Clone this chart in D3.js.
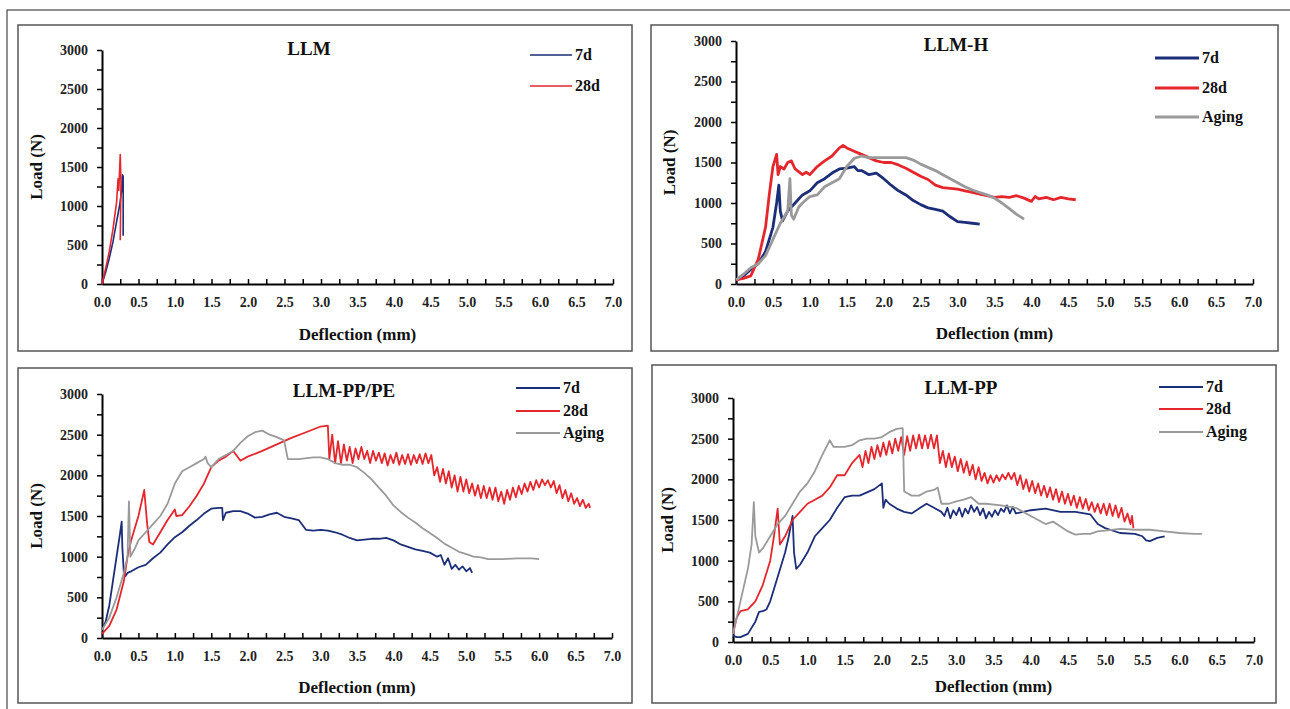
<!DOCTYPE html>
<html>
<head>
<meta charset="utf-8">
<script src="https://cdn.jsdelivr.net/npm/d3@7"></script>
<style>
  body { margin: 0; background: #fff; }
  svg text { font-family: "Liberation Serif", "DejaVu Serif", "Times New Roman", serif !important; font-weight: bold; fill: #111; }
</style>
</head>
<body>
<svg id="chart" width="1290" height="709"></svg>
<script>
// series names + tick labels
const seriesNames = ["7d", "28d", "Aging"];
const xTicks = d3.range(0, 7.01, 0.25);
const yTicks = d3.range(0, 3001, 250);

// LLM  [deflection mm, load N]
const llm7d = [[0,0],[0.05,150],[0.1,330],[0.15,540],[0.2,800],[0.24,1000],[0.27,1200],[0.28,1400],[0.29,1380],[0.29,620]];
const llm28d = [[0,0],[0.05,200],[0.1,420],[0.15,700],[0.2,1050],[0.22,1350],[0.23,1200],[0.25,1660],[0.26,1300],[0.25,560]];

// LLM-H
const llmh7d = [[0,50],[0.1,100],[0.2,180],[0.3,250],[0.4,400],[0.5,700],[0.55,1000],[0.58,1220],[0.6,900],[0.63,780],[0.7,900],[0.8,1000],[0.9,1100],[1.0,1150],[1.1,1250],[1.2,1300],[1.3,1370],[1.4,1420],[1.5,1430],[1.6,1450],[1.65,1400],[1.7,1400],[1.8,1350],[1.9,1370],[2.0,1300],[2.1,1220],[2.2,1150],[2.3,1100],[2.4,1030],[2.5,980],[2.6,940],[2.7,920],[2.8,900],[2.9,830],[3.0,770],[3.1,760],[3.2,750],[3.3,740]];
const llmh28d = [[0,50],[0.1,70],[0.2,100],[0.3,300],[0.4,700],[0.45,1100],[0.5,1450],[0.55,1600],[0.57,1350],[0.6,1450],[0.65,1420],[0.7,1500],[0.75,1520],[0.8,1420],[0.9,1350],[0.95,1380],[1.0,1350],[1.1,1450],[1.2,1520],[1.3,1580],[1.4,1680],[1.45,1710],[1.5,1680],[1.6,1640],[1.7,1600],[1.8,1560],[1.9,1520],[2.0,1500],[2.1,1500],[2.2,1470],[2.3,1430],[2.4,1380],[2.5,1330],[2.6,1290],[2.7,1220],[2.8,1190],[2.9,1180],[3.0,1170],[3.1,1150],[3.2,1130],[3.3,1110],[3.4,1090],[3.5,1070],[3.6,1080],[3.7,1070],[3.8,1090],[3.9,1060],[4.0,1020],[4.05,1080],[4.1,1050],[4.2,1070],[4.3,1040],[4.4,1070],[4.5,1050],[4.6,1040]];
const llmhAging = [[0,50],[0.1,120],[0.2,200],[0.3,250],[0.4,350],[0.5,550],[0.6,750],[0.7,900],[0.73,1300],[0.75,850],[0.78,800],[0.85,950],[0.9,1000],[1.0,1080],[1.1,1100],[1.2,1200],[1.3,1250],[1.4,1300],[1.5,1450],[1.6,1550],[1.7,1580],[1.8,1560],[2.0,1560],[2.2,1560],[2.3,1560],[2.4,1530],[2.5,1480],[2.6,1440],[2.7,1400],[2.8,1350],[2.9,1300],[3.0,1250],[3.1,1200],[3.2,1160],[3.3,1130],[3.4,1100],[3.5,1060],[3.6,1000],[3.7,930],[3.8,860],[3.9,800]];

// LLM-PP/PE
const ppe7d = [[0,100],[0.05,200],[0.1,400],[0.15,700],[0.2,1000],[0.25,1300],[0.27,1430],[0.28,1100],[0.3,800],[0.32,760],[0.35,800],[0.4,820],[0.5,870],[0.6,900],[0.7,980],[0.8,1050],[0.9,1150],[1.0,1240],[1.1,1300],[1.2,1380],[1.3,1450],[1.4,1530],[1.5,1590],[1.6,1600],[1.65,1600],[1.66,1450],[1.7,1540],[1.8,1560],[1.9,1560],[2.0,1530],[2.1,1480],[2.2,1490],[2.3,1520],[2.4,1540],[2.5,1490],[2.6,1470],[2.7,1450],[2.8,1330],[2.9,1320],[3.0,1330],[3.1,1320],[3.2,1300],[3.3,1270],[3.4,1230],[3.5,1200],[3.6,1210],[3.7,1220],[3.8,1220],[3.9,1230],[4.0,1200],[4.1,1150],[4.2,1120],[4.3,1090],[4.4,1070],[4.5,1050],[4.6,1000],[4.65,1020],[4.7,900],[4.75,980],[4.8,850],[4.85,900],[4.9,840],[4.95,880],[5.0,820],[5.05,860],[5.08,800]];
const ppe28d = [[0,50],[0.1,150],[0.2,350],[0.3,700],[0.35,1000],[0.4,1200],[0.5,1500],[0.58,1820],[0.62,1400],[0.65,1180],[0.7,1150],[0.8,1300],[0.9,1450],[1.0,1580],[1.02,1500],[1.1,1510],[1.2,1620],[1.3,1750],[1.4,1900],[1.5,2100],[1.6,2180],[1.7,2230],[1.8,2300],[1.85,2240],[1.9,2180],[2.0,2230],[2.2,2300],[2.4,2380],[2.6,2460],[2.8,2530],[3.0,2600],[3.1,2610],[3.12,2200],[3.16,2500],[3.2,2150],[3.24,2420],[3.28,2150],[3.32,2380],[3.36,2180],[3.4,2350],[3.44,2150],[3.48,2330],[3.52,2200],[3.56,2350],[3.6,2200],[3.64,2300],[3.68,2150],[3.72,2300],[3.76,2180],[3.8,2280],[3.84,2150],[3.88,2270],[3.92,2120],[3.96,2250],[4.0,2150],[4.04,2280],[4.08,2130],[4.12,2250],[4.16,2140],[4.2,2260],[4.24,2130],[4.28,2250],[4.32,2150],[4.36,2260],[4.4,2140],[4.44,2270],[4.48,2150],[4.52,2250],[4.56,2000],[4.6,2100],[4.64,1920],[4.68,2080],[4.72,1900],[4.76,2050],[4.8,1850],[4.84,2000],[4.88,1800],[4.92,1980],[4.96,1800],[5.0,1950],[5.04,1780],[5.08,1900],[5.12,1750],[5.16,1880],[5.2,1720],[5.24,1870],[5.28,1720],[5.32,1850],[5.36,1700],[5.4,1850],[5.44,1680],[5.48,1800],[5.52,1650],[5.56,1820],[5.6,1700],[5.64,1850],[5.68,1730],[5.72,1870],[5.76,1770],[5.8,1900],[5.84,1800],[5.88,1920],[5.92,1820],[5.96,1940],[6.0,1850],[6.04,1950],[6.08,1880],[6.12,1940],[6.16,1850],[6.2,1930],[6.24,1780],[6.28,1880],[6.32,1720],[6.36,1820],[6.4,1680],[6.44,1780],[6.48,1650],[6.52,1720],[6.56,1620],[6.6,1700],[6.64,1600],[6.68,1650],[6.7,1600]];
const ppeAging = [[0,100],[0.1,250],[0.2,500],[0.3,800],[0.35,1000],[0.37,1680],[0.39,1000],[0.45,1100],[0.5,1200],[0.6,1300],[0.7,1400],[0.8,1500],[0.9,1650],[1.0,1900],[1.1,2050],[1.2,2100],[1.3,2150],[1.4,2200],[1.42,2230],[1.45,2150],[1.5,2100],[1.6,2200],[1.7,2250],[1.8,2300],[1.9,2400],[2.0,2480],[2.1,2530],[2.2,2550],[2.3,2500],[2.4,2470],[2.5,2430],[2.55,2200],[2.7,2200],[2.9,2220],[3.0,2220],[3.1,2200],[3.2,2150],[3.3,2130],[3.4,2130],[3.5,2100],[3.6,2030],[3.7,1950],[3.8,1850],[3.9,1750],[4.0,1630],[4.1,1550],[4.2,1480],[4.3,1420],[4.4,1350],[4.5,1290],[4.6,1230],[4.7,1160],[4.8,1110],[4.9,1060],[5.0,1030],[5.1,1000],[5.2,990],[5.3,970],[5.5,970],[5.7,980],[5.9,980],[6.0,970]];

// LLM-PP
const pp7d = [[0,80],[0.05,60],[0.1,60],[0.2,100],[0.3,250],[0.35,370],[0.4,380],[0.45,400],[0.5,500],[0.6,800],[0.7,1100],[0.75,1300],[0.8,1550],[0.82,1100],[0.85,900],[0.9,950],[1.0,1100],[1.1,1300],[1.2,1400],[1.3,1500],[1.4,1650],[1.5,1780],[1.6,1800],[1.7,1800],[1.8,1840],[1.9,1880],[2.0,1950],[2.02,1650],[2.05,1750],[2.1,1700],[2.2,1640],[2.3,1600],[2.4,1580],[2.5,1640],[2.6,1700],[2.7,1650],[2.8,1600],[2.84,1550],[2.88,1650],[2.92,1520],[2.96,1620],[3.0,1560],[3.04,1650],[3.08,1540],[3.12,1640],[3.16,1580],[3.2,1680],[3.24,1600],[3.28,1660],[3.32,1560],[3.36,1640],[3.4,1520],[3.44,1600],[3.48,1540],[3.52,1620],[3.56,1560],[3.6,1640],[3.64,1600],[3.68,1680],[3.72,1580],[3.76,1660],[3.8,1580],[3.9,1600],[4.0,1620],[4.2,1640],[4.4,1600],[4.6,1600],[4.8,1570],[4.9,1450],[5.0,1400],[5.2,1340],[5.4,1330],[5.5,1300],[5.55,1250],[5.6,1240],[5.7,1280],[5.8,1300]];
const pp28d = [[0,100],[0.05,300],[0.1,380],[0.2,400],[0.3,500],[0.4,700],[0.5,1000],[0.55,1300],[0.6,1640],[0.63,1200],[0.7,1300],[0.8,1500],[0.9,1600],[1.0,1700],[1.1,1750],[1.2,1800],[1.3,1900],[1.4,2050],[1.5,2050],[1.6,2200],[1.7,2300],[1.74,2150],[1.78,2350],[1.82,2200],[1.86,2400],[1.9,2250],[1.94,2420],[1.98,2280],[2.02,2450],[2.06,2300],[2.1,2470],[2.14,2320],[2.18,2500],[2.22,2350],[2.26,2520],[2.3,2300],[2.34,2530],[2.38,2350],[2.42,2540],[2.46,2380],[2.5,2550],[2.54,2380],[2.58,2540],[2.62,2380],[2.66,2550],[2.7,2380],[2.74,2540],[2.78,2200],[2.82,2350],[2.86,2150],[2.9,2320],[2.94,2150],[2.98,2280],[3.02,2100],[3.06,2250],[3.1,2080],[3.14,2220],[3.18,2050],[3.22,2180],[3.26,2000],[3.3,2150],[3.34,1980],[3.38,2080],[3.42,1950],[3.46,2050],[3.5,1960],[3.54,2050],[3.58,1980],[3.62,2060],[3.66,2000],[3.7,2080],[3.74,2000],[3.78,2080],[3.82,1930],[3.86,2050],[3.9,1880],[3.94,2000],[3.98,1850],[4.02,1980],[4.06,1830],[4.1,1950],[4.14,1800],[4.18,1920],[4.22,1780],[4.26,1900],[4.3,1750],[4.34,1880],[4.38,1720],[4.42,1850],[4.46,1700],[4.5,1820],[4.54,1680],[4.58,1800],[4.62,1650],[4.66,1780],[4.7,1640],[4.74,1760],[4.78,1620],[4.82,1720],[4.86,1600],[4.9,1700],[4.94,1580],[4.98,1700],[5.02,1560],[5.06,1700],[5.1,1550],[5.14,1680],[5.18,1530],[5.22,1650],[5.26,1480],[5.3,1580],[5.34,1450],[5.36,1550],[5.38,1400]];
const ppAging = [[0,100],[0.1,500],[0.2,900],[0.25,1200],[0.28,1720],[0.3,1300],[0.35,1100],[0.4,1150],[0.5,1300],[0.6,1450],[0.7,1550],[0.8,1700],[0.9,1850],[1.0,1950],[1.1,2100],[1.2,2300],[1.3,2480],[1.35,2400],[1.5,2400],[1.6,2420],[1.7,2480],[1.8,2500],[1.9,2500],[2.0,2520],[2.1,2580],[2.2,2620],[2.28,2630],[2.3,1850],[2.4,1800],[2.5,1800],[2.6,1850],[2.7,1870],[2.75,1900],[2.8,1700],[2.9,1700],[3.0,1730],[3.1,1750],[3.2,1780],[3.3,1700],[3.4,1700],[3.6,1680],[3.8,1650],[3.9,1600],[4.0,1550],[4.1,1500],[4.2,1450],[4.3,1480],[4.4,1420],[4.5,1360],[4.6,1320],[4.7,1330],[4.8,1330],[4.9,1360],[5.0,1370],[5.2,1390],[5.4,1380],[5.6,1380],[5.8,1360],[6.0,1340],[6.2,1330],[6.3,1330]];

const colors = { "7d": "#1c2e78", "28d": "#e5262d", "Aging": "#9a9a9a" };
const serif = "'Liberation Serif', 'DejaVu Serif', serif";

const svg = d3.select("#chart");

// outer frame of the figure
svg.append("rect").attr("x", 7).attr("y", 10).attr("width", 1300).attr("height", 720)
  .attr("fill", "none").attr("stroke", "#222").attr("stroke-width", 1);

const panels = [
  { title: "LLM", box: [18, 25, 632, 351], x0: 102, x1: 613, yTop: 50, yBot: 284,
    series: [llm7d, llm28d], lw: 1.6, titleX: 309, titleY: 55,
    legX: 530, legY: [55, 86], legLen: 42, legW: 1.5, ylabX: 36, xlabY: 340 },
  { title: "LLM-H", box: [651, 25, 1278, 351], x0: 736, x1: 1253, yTop: 41, yBot: 284,
    series: [llmh7d, llmh28d, llmhAging], lw: 2.8, titleX: 956, titleY: 51,
    legX: 1155, legY: [58, 88, 117], legLen: 44, legW: 3, ylabX: 669, xlabY: 339 },
  { title: "LLM-PP/PE", box: [18, 368, 632, 703], x0: 102, x1: 612, yTop: 394, yBot: 638,
    series: [ppe7d, ppe28d, ppeAging], lw: 1.8, titleX: 344, titleY: 397,
    legX: 516, legY: [388, 411, 433], legLen: 44, legW: 2, ylabX: 36, xlabY: 693 },
  { title: "LLM-PP", box: [652, 365, 1276, 703], x0: 733, x1: 1254, yTop: 398, yBot: 642,
    series: [pp7d, pp28d, ppAging], lw: 1.8, titleX: 961, titleY: 394,
    legX: 1159, legY: [387, 409, 432], legLen: 44, legW: 2, ylabX: 667, xlabY: 692 }
];

panels.forEach(p => {
  const g = svg.append("g");
  const [bx0, by0, bx1, by1] = p.box;
  g.append("rect").attr("x", bx0).attr("y", by0).attr("width", bx1 - bx0).attr("height", by1 - by0)
    .attr("fill", "#fff").attr("stroke", "#555").attr("stroke-width", 1.5);

  const x = d3.scaleLinear().domain([0, 7]).range([p.x0, p.x1]);
  const y = d3.scaleLinear().domain([0, 3000]).range([p.yBot, p.yTop]);

  // x axis (ticks pointing up)
  const xa = g.append("g").attr("transform", `translate(0,${p.yBot})`)
    .call(d3.axisBottom(x).tickValues(xTicks).tickSizeInner(-5).tickSizeOuter(0).tickPadding(13)
      .tickFormat(d => (Math.round(d * 100) % 50 === 0 ? d.toFixed(1) : "")));
  // y axis
  const ya = g.append("g").attr("transform", `translate(${p.x0},0)`)
    .call(d3.axisLeft(y).tickValues(yTicks).tickSize(5).tickSizeOuter(0).tickPadding(9)
      .tickFormat(d => (d % 500 === 0 ? d : "")));
  [xa, ya].forEach(a => {
    a.attr("font-family", null);
    a.select(".domain").attr("stroke", "#000").attr("stroke-width", 2);
    a.selectAll(".tick line").attr("stroke", "#000").attr("stroke-width", 1.5);
    a.selectAll("text").style("font-family", serif).style("font-weight", "bold")
      .style("font-size", "14px").style("fill", "#222");
  });

  // curves
  const line = d3.line().x(d => x(d[0])).y(d => y(d[1]));
  p.series.forEach((s, i) => {
    g.append("path").datum(s).attr("d", line).attr("fill", "none")
      .attr("stroke", colors[seriesNames[i]]).attr("stroke-width", p.lw)
      .attr("stroke-linejoin", "round");
  });

  // title
  g.append("text").attr("x", p.titleX).attr("y", p.titleY).attr("text-anchor", "middle")
    .style("font-family", serif).style("font-size", "19px").text(p.title);

  // legend
  p.series.forEach((s, i) => {
    const name = seriesNames[i];
    g.append("line").attr("x1", p.legX).attr("x2", p.legX + p.legLen)
      .attr("y1", p.legY[i]).attr("y2", p.legY[i])
      .attr("stroke", colors[name]).attr("stroke-width", p.legW);
    g.append("text").attr("x", p.legX + p.legLen + 3).attr("y", p.legY[i] + 5)
      .style("font-family", serif).style("font-size", "16px").text(name);
  });

  // axis titles
  g.append("text").attr("x", (p.x0 + p.x1) / 2).attr("y", p.xlabY).attr("text-anchor", "middle")
    .style("font-family", serif).style("font-size", "17px").text("Deflection (mm)");
  g.append("text").attr("transform", `translate(${p.ylabX},${(p.yTop + p.yBot) / 2}) rotate(-90)`)
    .attr("text-anchor", "middle").attr("dy", "0.35em")
    .style("font-family", serif).style("font-size", "17px").text("Load (N)");
});
</script>
</body>
</html>
